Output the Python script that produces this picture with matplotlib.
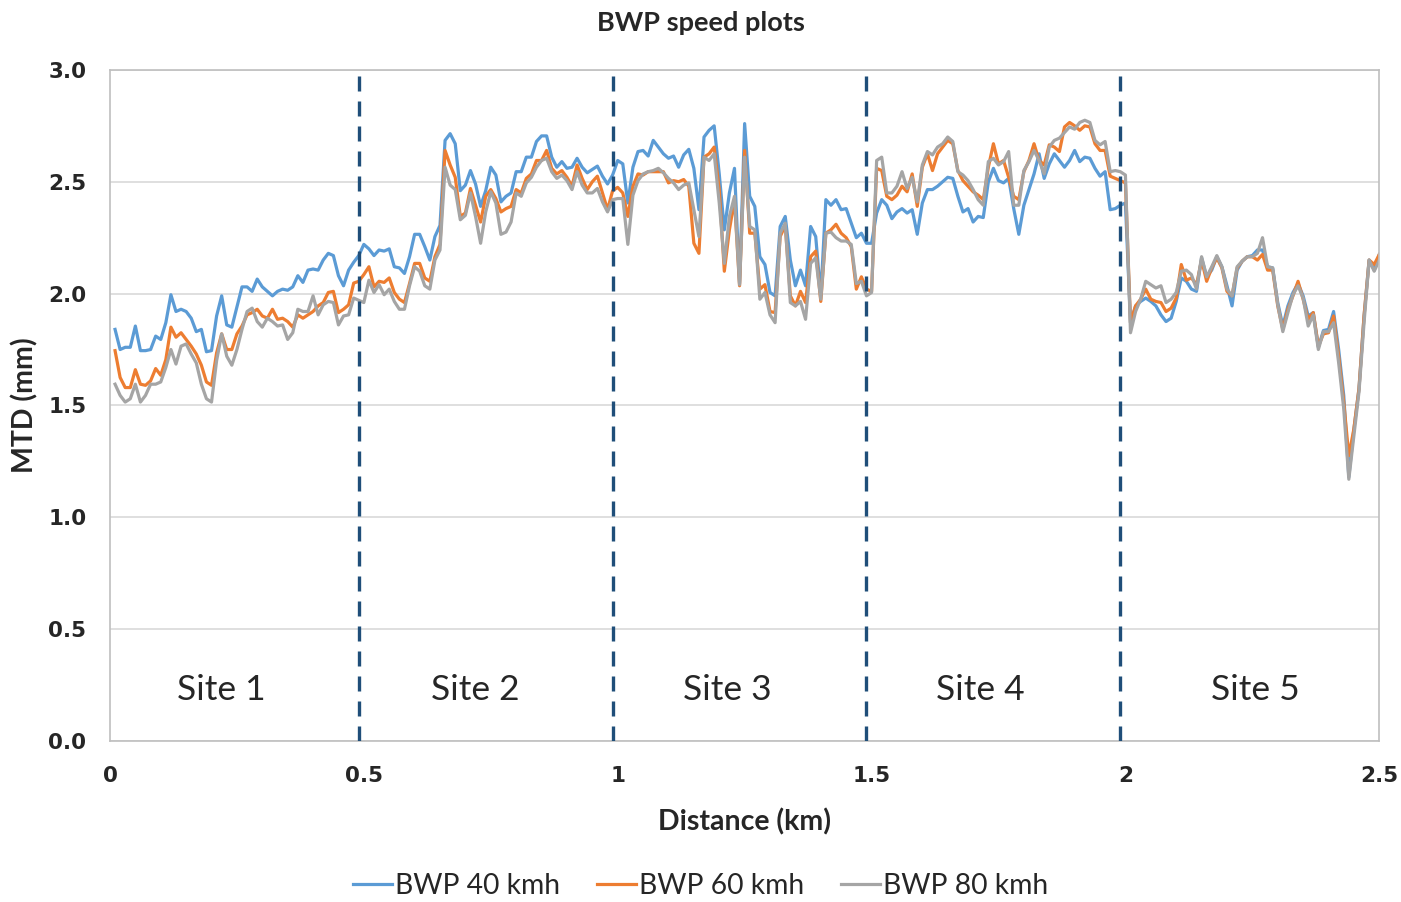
import numpy as np
import matplotlib
matplotlib.use("Agg")
import matplotlib.pyplot as plt

# distance along the road (km), one reading every 10 m
distance = np.round(np.arange(1, 251) * 0.01, 2)

bwp_40 = [
    # site 1
    1.84, 1.75, 1.76, 1.76, 1.855, 1.745, 1.745, 1.75, 1.81, 1.795,
    1.87, 1.995, 1.92, 1.93, 1.92, 1.89, 1.83, 1.84, 1.74, 1.745,
    1.90, 1.99, 1.86, 1.85, 1.94, 2.03, 2.03, 2.01, 2.065, 2.03,
    2.01, 1.99, 2.01, 2.02, 2.015, 2.03, 2.08, 2.05, 2.105, 2.11,
    2.105, 2.15, 2.18, 2.17, 2.08, 2.035, 2.105, 2.14, 2.17, 2.22,
    # site 2
    2.20, 2.17, 2.195, 2.19, 2.20, 2.12, 2.115, 2.09, 2.165, 2.265,
    2.265, 2.21, 2.15, 2.255, 2.305, 2.685, 2.715, 2.67, 2.46, 2.485,
    2.55, 2.49, 2.39, 2.46, 2.565, 2.53, 2.41, 2.435, 2.45, 2.545,
    2.545, 2.61, 2.61, 2.68, 2.705, 2.705, 2.61, 2.565, 2.59, 2.56,
    2.565, 2.605, 2.565, 2.54, 2.555, 2.57, 2.525, 2.49, 2.53, 2.595,
    # site 3
    2.58, 2.405, 2.565, 2.635, 2.64, 2.615, 2.685, 2.655, 2.625, 2.605,
    2.615, 2.565, 2.62, 2.645, 2.56, 2.375, 2.70, 2.73, 2.75, 2.535,
    2.285, 2.45, 2.56, 2.045, 2.76, 2.435, 2.39, 2.165, 2.13, 2.005,
    1.99, 2.30, 2.345, 2.15, 2.035, 2.105, 2.035, 2.30, 2.255, 1.99,
    2.42, 2.395, 2.42, 2.375, 2.38, 2.315, 2.25, 2.27, 2.225, 2.225,
    # site 4
    2.36, 2.42, 2.395, 2.335, 2.365, 2.38, 2.36, 2.375, 2.265, 2.405,
    2.465, 2.465, 2.48, 2.50, 2.52, 2.515, 2.435, 2.365, 2.38, 2.32,
    2.345, 2.34, 2.50, 2.56, 2.505, 2.495, 2.515, 2.38, 2.265, 2.395,
    2.465, 2.535, 2.625, 2.515, 2.58, 2.625, 2.595, 2.565, 2.595, 2.64,
    2.59, 2.61, 2.605, 2.56, 2.525, 2.545, 2.375, 2.38, 2.395, 2.405,
    # site 5
    1.87, 1.945, 1.965, 1.98, 1.965, 1.945, 1.905, 1.875, 1.89, 1.965,
    2.07, 2.055, 2.02, 2.01, 2.16, 2.075, 2.105, 2.165, 2.12, 2.035,
    1.945, 2.105, 2.145, 2.165, 2.17, 2.195, 2.195, 2.12, 2.115, 1.96,
    1.855, 1.945, 2.005, 2.045, 1.99, 1.90, 1.915, 1.76, 1.835, 1.84,
    1.92, 1.75, 1.545, 1.18, 1.395, 1.575, 1.90, 2.15, 2.105, 2.175,
]

bwp_60 = [
    # site 1
    1.745, 1.625, 1.58, 1.58, 1.66, 1.595, 1.59, 1.61, 1.665, 1.635,
    1.705, 1.85, 1.805, 1.825, 1.795, 1.765, 1.73, 1.68, 1.605, 1.59,
    1.735, 1.82, 1.75, 1.75, 1.82, 1.855, 1.905, 1.915, 1.93, 1.90,
    1.89, 1.93, 1.885, 1.89, 1.875, 1.85, 1.905, 1.89, 1.905, 1.92,
    1.945, 1.96, 2.005, 2.01, 1.915, 1.93, 1.95, 2.047, 2.055, 2.085,
    # site 2
    2.12, 2.03, 2.055, 2.05, 2.07, 2.005, 1.975, 1.96, 2.045, 2.135,
    2.135, 2.07, 2.055, 2.165, 2.22, 2.64, 2.575, 2.52, 2.345, 2.36,
    2.47, 2.395, 2.32, 2.435, 2.465, 2.425, 2.365, 2.38, 2.39, 2.465,
    2.45, 2.515, 2.535, 2.595, 2.595, 2.64, 2.56, 2.535, 2.55, 2.52,
    2.48, 2.575, 2.515, 2.465, 2.50, 2.525, 2.45, 2.375, 2.46, 2.475,
    # site 3
    2.45, 2.345, 2.48, 2.535, 2.53, 2.545, 2.545, 2.545, 2.545, 2.495,
    2.505, 2.50, 2.51, 2.48, 2.225, 2.18, 2.61, 2.625, 2.655, 2.465,
    2.10, 2.285, 2.42, 2.035, 2.64, 2.27, 2.27, 2.02, 2.04, 1.92,
    1.915, 2.255, 2.305, 1.99, 1.945, 2.01, 1.96, 2.165, 2.19, 1.965,
    2.27, 2.285, 2.31, 2.27, 2.25, 2.21, 2.02, 2.075, 2.02, 2.01,
    # site 4
    2.56, 2.55, 2.435, 2.42, 2.44, 2.48, 2.455, 2.535, 2.39, 2.565,
    2.625, 2.55, 2.625, 2.655, 2.685, 2.67, 2.55, 2.505, 2.48, 2.455,
    2.44, 2.42, 2.565, 2.67, 2.58, 2.595, 2.52, 2.435, 2.42, 2.545,
    2.595, 2.67, 2.595, 2.575, 2.665, 2.655, 2.635, 2.745, 2.765, 2.75,
    2.73, 2.75, 2.745, 2.67, 2.64, 2.64, 2.525, 2.515, 2.505, 2.495,
    # site 5
    1.87, 1.945, 1.975, 2.02, 1.975, 1.965, 1.96, 1.92, 1.935, 1.98,
    2.13, 2.06, 2.07, 2.04, 2.15, 2.055, 2.115, 2.16, 2.115, 2.01,
    1.99, 2.115, 2.145, 2.165, 2.165, 2.15, 2.175, 2.105, 2.105, 1.945,
    1.84, 1.93, 1.99, 2.055, 1.975, 1.885, 1.915, 1.765, 1.82, 1.825,
    1.90, 1.72, 1.515, 1.275, 1.395, 1.575, 1.90, 2.15, 2.13, 2.175,
]

bwp_80 = [
    # site 1
    1.595, 1.545, 1.515, 1.53, 1.595, 1.515, 1.545, 1.595, 1.595, 1.605,
    1.67, 1.75, 1.685, 1.765, 1.775, 1.73, 1.69, 1.595, 1.53, 1.515,
    1.70, 1.82, 1.72, 1.68, 1.75, 1.84, 1.92, 1.935, 1.875, 1.85,
    1.89, 1.875, 1.855, 1.86, 1.795, 1.825, 1.93, 1.92, 1.92, 1.99,
    1.905, 1.95, 1.965, 1.96, 1.86, 1.90, 1.905, 1.98, 1.97, 1.96,
    # site 2
    2.06, 2.005, 2.04, 1.995, 2.02, 1.965, 1.93, 1.93, 2.035, 2.12,
    2.10, 2.035, 2.02, 2.15, 2.195, 2.565, 2.485, 2.465, 2.33, 2.35,
    2.45, 2.345, 2.225, 2.365, 2.455, 2.405, 2.265, 2.275, 2.32, 2.45,
    2.435, 2.495, 2.52, 2.565, 2.595, 2.605, 2.545, 2.515, 2.53, 2.505,
    2.465, 2.545, 2.485, 2.45, 2.45, 2.47, 2.41, 2.365, 2.42, 2.425,
    # site 3
    2.425, 2.22, 2.44, 2.505, 2.535, 2.545, 2.55, 2.56, 2.54, 2.515,
    2.495, 2.465, 2.485, 2.495, 2.375, 2.255, 2.61, 2.595, 2.625, 2.405,
    2.135, 2.345, 2.435, 2.04, 2.61, 2.30, 2.285, 1.975, 2.005, 1.905,
    1.87, 2.27, 2.315, 1.96, 1.945, 1.965, 1.885, 2.135, 2.16, 1.975,
    2.27, 2.275, 2.25, 2.235, 2.235, 2.22, 2.045, 2.055, 1.99, 2.005,
    # site 4
    2.595, 2.61, 2.45, 2.45, 2.48, 2.545, 2.47, 2.52, 2.41, 2.575,
    2.635, 2.62, 2.655, 2.67, 2.70, 2.68, 2.545, 2.53, 2.505, 2.465,
    2.42, 2.395, 2.59, 2.605, 2.575, 2.59, 2.635, 2.395, 2.395, 2.55,
    2.59, 2.64, 2.595, 2.535, 2.655, 2.685, 2.695, 2.72, 2.745, 2.735,
    2.765, 2.775, 2.765, 2.685, 2.665, 2.68, 2.545, 2.55, 2.545, 2.53,
    # site 5
    1.825, 1.92, 1.975, 2.055, 2.04, 2.025, 2.035, 1.96, 1.975, 2.005,
    2.10, 2.105, 2.085, 2.02, 2.165, 2.075, 2.12, 2.17, 2.12, 2.02,
    1.99, 2.12, 2.145, 2.165, 2.165, 2.18, 2.25, 2.12, 2.115, 1.95,
    1.83, 1.915, 1.995, 2.035, 1.98, 1.855, 1.905, 1.75, 1.83, 1.83,
    1.87, 1.69, 1.485, 1.17, 1.365, 1.56, 1.87, 2.15, 2.10, 2.15,
]

series_names = ["BWP 40 kmh", "BWP 60 kmh", "BWP 80 kmh"]
series_colors = ["#5B9BD5", "#ED7D31", "#A5A5A5"]

site_labels = ["Site 1", "Site 2", "Site 3", "Site 4", "Site 5"]
site_label_x = [0.22, 0.72, 1.215, 1.715, 2.255]
site_bounds = [0.49, 0.99, 1.49, 1.99]

xticks = [0, 0.5, 1, 1.5, 2, 2.5]
xtick_labels = ["0", "0.5", "1", "1.5", "2", "2.5"]
yticks = [0.0, 0.5, 1.0, 1.5, 2.0, 2.5, 3.0]

text_font = ["Lato", "DejaVu Sans"]
ink = "#262626"

fig = plt.figure(figsize=(14.01, 9.02), dpi=100)
ax = fig.add_axes([0.0785, 0.1785, 0.906, 0.744])

for vals, name, col in zip([bwp_40, bwp_60, bwp_80], series_names, series_colors):
    ax.plot(distance, vals, color=col, lw=2.3, label=name, solid_joinstyle="round")

for xb in site_bounds:
    ax.axvline(xb, color="#1F4E79", lw=2.4, dashes=(4.5, 3), zorder=5)

for lab, xl in zip(site_labels, site_label_x):
    ax.text(xl, 0.23, lab, ha="center", va="center", fontsize=25.5,
            family=text_font, color=ink)

ax.set_xlim(0, 2.5)
ax.set_ylim(0, 3.0)
ax.set_xticks(xticks)
ax.set_xticklabels(xtick_labels)
ax.set_yticks(yticks)
ax.set_yticklabels([f"{v:.1f}" for v in yticks])
ax.tick_params(length=0, labelsize=15.5, colors=ink)
ax.tick_params(axis="x", pad=18)
ax.tick_params(axis="y", pad=17)
for lbl in ax.get_xticklabels() + ax.get_yticklabels():
    lbl.set_fontweight("bold")
    lbl.set_family("DejaVu Sans")

ax.grid(axis="y", color="#D9D9D9", lw=1.2)
ax.set_axisbelow(True)
for sp in ax.spines.values():
    sp.set_color("#BFBFBF")
    sp.set_linewidth(1.2)

ax.set_xlabel("Distance (km)", fontsize=20.5, fontweight="bold", family=text_font,
              labelpad=16, color=ink)
ax.set_ylabel("MTD (mm)", fontsize=20.5, fontweight="bold", family=text_font,
              labelpad=7, color=ink)
fig.suptitle("BWP speed plots", x=0.5, y=0.988, fontsize=19.5, fontweight="bold",
             family=text_font, color=ink)

leg = fig.legend(loc="center", bbox_to_anchor=(0.5, 0.018), ncol=3, frameon=False,
                 handlelength=1.4, handletextpad=0.1, columnspacing=1.3,
                 prop={"family": text_font, "size": 20.3})
for t in leg.get_texts():
    t.set_color(ink)

fig.savefig("out.png", dpi=100)
